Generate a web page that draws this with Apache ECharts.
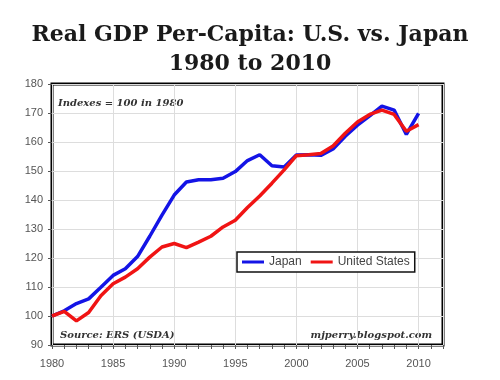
<!DOCTYPE html>
<html><head><meta charset="utf-8">
<script src="https://cdn.jsdelivr.net/npm/echarts@6/dist/echarts.min.js"></script>
<style>html,body{margin:0;padding:0;background:#fff}#c{width:500px;height:380px}</style>
</head><body><div id="c"></div>
<script>
const years = [1980,1981,1982,1983,1984,1985,1986,1987,1988,1989,1990,1991,1992,1993,1994,1995,1996,1997,1998,1999,2000,2001,2002,2003,2004,2005,2006,2007,2008,2009,2010];
const japan = [100,101.8,104.3,105.9,109.9,114,116.3,120.5,127.5,134.8,141.7,146.2,147,147,147.5,149.8,153.6,155.6,151.8,151.4,155.5,155.6,155.4,157.6,162,165.8,169,172.4,171,162.6,169.9];
const usa = [100,101.6,98.3,101.2,107,111.1,113.4,116.3,120.3,123.8,125,123.6,125.5,127.5,130.7,133,137.4,141.4,145.8,150.4,155.3,155.6,156,158.6,163,166.9,169.5,171,169.5,163.7,166];
const yTicks = [90,100,110,120,130,140,150,160,170,180];
const xLabelYears = [1980,1985,1990,1995,2000,2005,2010];

const chart = echarts.init(document.getElementById('c'));
const pair = (arr) => years.map((y,i)=>[y,arr[i]]);
const gray = '#555';
const serif = 'DejaVu Serif';
chart.setOption({
  animation:false,
  title:{
    text:'Real GDP Per-Capita: U.S. vs. Japan\n1980 to 2010',
    left:'center', top:16,
    textStyle:{fontFamily:serif,fontWeight:'bold',fontSize:22,lineHeight:29,color:'#1a1a1a'}
  },
  grid:{left:52,right:57,top:84,bottom:35,show:true,borderColor:'#000',borderWidth:3,backgroundColor:'#fff'},
  legend:{
    left:237, top:252, orient:'horizontal',
    data:['Japan','United States'],
    icon:'rect', itemWidth:22, itemHeight:3, itemGap:9,
    padding:[4,5], borderColor:'#111', borderWidth:1.5, backgroundColor:'#fff',
    textStyle:{fontFamily:'Liberation Sans',fontSize:12,color:'#444'}
  },
  xAxis:[{
    type:'value', min:1980, max:2012, interval:1,
    axisLine:{show:false},
    axisTick:{show:true,length:4,lineStyle:{color:gray}},
    axisLabel:{color:gray,fontFamily:'Liberation Sans',fontSize:11,margin:13,
      formatter:(v)=> xLabelYears.includes(v) ? String(v) : ''},
    splitLine:{show:false}
  },{
    type:'value', min:1980, max:2012, interval:5, position:'bottom',
    axisLine:{show:false}, axisTick:{show:false}, axisLabel:{show:false},
    splitLine:{show:true,lineStyle:{color:'#ddd',width:1}}
  }],
  yAxis:{
    type:'value', min:90, max:180, interval:10,
    axisLine:{show:false},
    axisTick:{show:true,length:4,lineStyle:{color:gray}},
    axisLabel:{color:gray,fontFamily:'Liberation Sans',fontSize:11,margin:9,
      formatter:(v)=> yTicks.includes(v) ? String(v) : ''},
    splitLine:{show:true,lineStyle:{color:'#ddd',width:1}}
  },
  graphic:[
    {type:'text',left:58,top:98,style:{text:'Indexes = 100 in 1980',font:'italic bold 10px "DejaVu Serif"',fill:'#333'}},
    {type:'text',left:60,top:330,style:{text:'Source: ERS (USDA)',font:'italic bold 10px "DejaVu Serif"',fill:'#333'}},
    {type:'text',right:68,top:330,style:{text:'mjperry.blogspot.com',font:'italic bold 10px "DejaVu Serif"',fill:'#333'}}
  ],
  series:[
    {name:'Japan',type:'line',data:pair(japan),showSymbol:false,symbol:'none',lineStyle:{color:'#1414e6',width:3.5},itemStyle:{color:'#1414e6'},z:3},
    {name:'United States',type:'line',data:pair(usa),showSymbol:false,symbol:'none',lineStyle:{color:'#f01414',width:3.5},itemStyle:{color:'#f01414'},z:4}
  ]
});
</script></body></html>
